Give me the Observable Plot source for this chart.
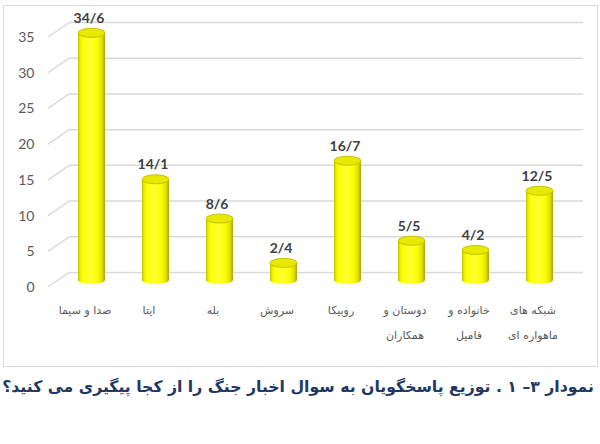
<!DOCTYPE html>
<html><head><meta charset="utf-8">
<script src="https://cdn.jsdelivr.net/npm/d3@7"></script>
<script src="https://cdn.jsdelivr.net/npm/@observablehq/plot@0.6"></script>
<style>
html,body{margin:0;padding:0;background:#fff;width:600px;height:444px;overflow:hidden;}
#frame{position:absolute;left:3px;top:5px;width:593px;height:360px;border:1.5px solid #d9d9d9;}
#chart{position:absolute;left:0;top:0;}
#caption{position:absolute;top:377px;right:6px;direction:rtl;text-align:right;font:bold 15.7px "DejaVu Sans",sans-serif;color:#1f3864;white-space:nowrap;}
</style></head>
<body>
<div id="frame"></div>
<div id="chart"></div>
<div id="caption">نمودار ۳– ۱ . توزیع پاسخگویان به سوال اخبار جنگ را از کجا پیگیری می کنید؟</div>
<script>
const categories = ["صدا و سیما","ایتا","بله","سروش","روبیکا","دوستان و\nهمکاران","خانواده و\nفامیل","شبکه های\nماهواره ای"];
const values = [34.6, 14.1, 8.6, 2.4, 16.7, 5.5, 4.2, 12.5];
const valueLabels = ["34/6","14/1","8/6","2/4","16/7","5/5","4/2","12/5"];
const yTicks = [0,5,10,15,20,25,30,35];

const data = categories.map((c,i)=>({cat:c, value:values[i], label:valueLabels[i]}));

const DX = 11, DY = -7;      // bar depth offset (mid plane)
const BX = 22, BY = -15;     // back wall offset

const chart = Plot.plot({
  width: 600, height: 370,
  marginLeft: 48, marginRight: 39, marginTop: 37, marginBottom: 83,
  style: {fontFamily: "Lato, 'DejaVu Sans', sans-serif", background: "transparent"},
  x: {type: "band", domain: categories, paddingInner: 0.58, paddingOuter: 0.29, axis: null},
  y: {domain: [0, 35], axis: null},
  marks: [
    Plot.ruleY(yTicks, {dx: BX, dy: BY, stroke: "#d9d9d9", strokeWidth: 1.5, strokeOpacity: 1}),
    Plot.axisY(yTicks, {tickSize: 0, tickPadding: 14, fontSize: 14, fill: "#595959", tickFormat: d => d, label: null}),
    Plot.axisX({tickSize: 0, tickPadding: 9, dx: 4, fontSize: 11, lineHeight: 2.27, fill: "#595959", fontFamily: "'DejaVu Sans', sans-serif", label: null}),
    Plot.barY(data, {x: "cat", y: "value", dx: DX, dy: DY, fill: "url(#cyl)"}),
    Plot.text(data, {x: "cat", y: "value", text: "label", dx: 8, dy: -22, fontSize: 14, fontWeight: "bold", fill: "#404040"})
  ]
});
document.getElementById("chart").append(chart);

// 3D decorations derived from the library's scales
const svg = d3.select(chart);
const xs = chart.scale("x"), ys = chart.scale("y");
const bw = xs.bandwidth;
const defs = svg.insert("defs", ":first-child");
const g = defs.append("linearGradient").attr("id", "cyl").attr("x1", "0%").attr("x2", "100%").attr("y1", "0%").attr("y2", "0%");
[[0,"#bdbd00"],[0.07,"#ecec00"],[0.2,"#ffff10"],[0.45,"#ffff30"],[0.7,"#ffff00"],[0.88,"#e2e200"],[1,"#a8a800"]]
  .forEach(([o,c]) => g.append("stop").attr("offset", o).attr("stop-color", c));

// left diagonal depth lines
const x0 = 48;
const diag = svg.insert("g", "g").attr("stroke", "#d9d9d9").attr("stroke-width", 1.5);
yTicks.forEach(t => {
  const yy = ys.apply(t);
  diag.append("line").attr("x1", x0).attr("y1", yy).attr("x2", x0 + BX).attr("y2", yy + BY);
});

// bottom ellipses behind bars, top caps in front
const barG = svg.select('g[aria-label="bar"]').node();
const bottoms = d3.create("svg:g");
const caps = d3.create("svg:g");
data.forEach(d => {
  const cx = xs.apply(d.cat) + bw / 2 + DX;
  bottoms.append("ellipse").attr("cx", cx).attr("cy", ys.apply(0) + DY).attr("rx", bw / 2).attr("ry", 4).attr("fill", "url(#cyl)");
  caps.append("ellipse").attr("cx", cx).attr("cy", ys.apply(d.value) + DY).attr("rx", bw / 2).attr("ry", 4.5)
    .attr("fill", "#e8e800").attr("stroke", "#c4c400").attr("stroke-width", 1);
});
barG.parentNode.insertBefore(bottoms.node(), barG);
barG.parentNode.insertBefore(caps.node(), barG.nextSibling);
</script>
</body></html>
